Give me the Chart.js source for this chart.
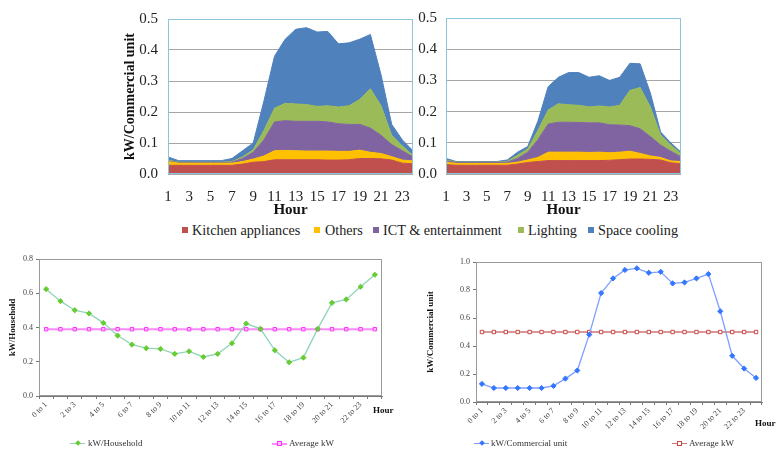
<!DOCTYPE html>
<html><head><meta charset="utf-8">
<script src="https://cdn.jsdelivr.net/npm/chart.js@4.4.1/dist/chart.umd.min.js"></script>
<style>
body{margin:0;background:#fff;}
#wrap{position:relative;width:777px;height:453px;overflow:hidden;font-family:"Liberation Serif","Times New Roman","DejaVu Serif",serif;background:#fff;}
canvas{position:absolute;}
.t{position:absolute;white-space:nowrap;color:#222;}
.lg{font-size:14.2px;line-height:18px;top:221px;}
.sq{position:absolute;width:6px;height:6px;}
.ln{position:absolute;height:0;width:15px;}
.mk{position:absolute;width:4px;height:4px;}
</style></head><body>
<div id="wrap">
<canvas id="c1" width="330" height="220" style="left:100px;top:0px"></canvas>
<canvas id="c2" width="290" height="220" style="left:400px;top:0px"></canvas>
<canvas id="c3" width="400" height="203" style="left:0px;top:250px"></canvas>
<canvas id="c4" width="377" height="203" style="left:400px;top:250px"></canvas>

<div class="sq" style="left:182px;top:227px;background:#C0504D"></div>
<div class="t lg" style="left:192px">Kitchen appliances</div>
<div class="sq" style="left:314px;top:227px;background:#FFC000"></div>
<div class="t lg" style="left:325px">Others</div>
<div class="sq" style="left:373px;top:227px;background:#8064A2"></div>
<div class="t lg" style="left:383px">ICT &amp; entertainment</div>
<div class="sq" style="left:518px;top:227px;background:#9BBB59"></div>
<div class="t lg" style="left:528px">Lighting</div>
<div class="sq" style="left:588px;top:227px;background:#4F81BD"></div>
<div class="t lg" style="left:598px">Space cooling</div>

<div class="t" style="left:373px;top:404px;font-size:9px;line-height:12px;font-weight:bold;color:#111">Hour</div>
<div class="t" style="left:755px;top:417px;font-size:9px;line-height:12px;font-weight:bold;color:#111">Hour</div>

<div class="ln" style="left:70px;top:443px;border-top:1px solid #90D5B5"></div>
<div class="mk" style="left:76px;top:441px;background:#66CC33;transform:rotate(45deg)"></div>
<div class="t" style="left:88px;top:437px;font-size:9px;line-height:12px;color:#333">kW/Household</div>
<div class="ln" style="left:272px;top:443px;border-top:2px solid #FF88FF"></div>
<div class="mk" style="left:277px;top:441px;background:#FFC0FF;border:1px solid #FF33FF;width:3px;height:3px"></div>
<div class="t" style="left:289px;top:437px;font-size:9px;line-height:12px;color:#333">Average kW</div>

<div class="ln" style="left:474px;top:443px;border-top:1px solid #7F9FFF"></div>
<div class="mk" style="left:480px;top:441px;background:#3377FF;transform:rotate(45deg)"></div>
<div class="t" style="left:491px;top:437px;font-size:9px;line-height:12px;color:#333">kW/Commercial unit</div>
<div class="ln" style="left:672px;top:443px;border-top:1px solid #CC7777"></div>
<div class="mk" style="left:677px;top:441px;background:#fff;border:1px solid #CC4444;width:3px;height:3px"></div>
<div class="t" style="left:689px;top:437px;font-size:9px;line-height:12px;color:#333">Average kW</div>
</div>
<script>
const hourLabels = ['1','2','3','4','5','6','7','8','9','10','11','12','13','14','15','16','17','18','19','20','21','22','23','24'];
const rangeLabels = ['0 to 1','1 to 2','2 to 3','3 to 4','4 to 5','5 to 6','6 to 7','7 to 8','8 to 9','9 to 10','10 to 11','11 to 12','12 to 13','13 to 14','14 to 15','15 to 16','16 to 17','17 to 18','18 to 19','19 to 20','20 to 21','21 to 22','22 to 23','23 to 24'];
const seriesNames = ['Kitchen appliances','Others','ICT & entertainment','Lighting','Space cooling'];

// Top-left stacked area (kW/Commercial unit)
const kitchenA = [0.028,0.028,0.028,0.028,0.028,0.028,0.028,0.032,0.038,0.040,0.046,0.046,0.046,0.046,0.046,0.045,0.045,0.046,0.050,0.050,0.049,0.045,0.035,0.033];
const othersA  = [0.012,0.007,0.007,0.007,0.007,0.007,0.007,0.008,0.010,0.018,0.029,0.030,0.029,0.028,0.028,0.029,0.028,0.027,0.027,0.020,0.017,0.011,0.010,0.009];
const ictA     = [0.002,0.002,0.002,0.002,0.002,0.002,0.003,0.010,0.022,0.052,0.093,0.096,0.095,0.096,0.096,0.094,0.089,0.087,0.083,0.078,0.059,0.039,0.030,0.013];
const lightA   = [0.003,0.001,0.001,0.001,0.001,0.001,0.002,0.005,0.008,0.030,0.044,0.056,0.056,0.054,0.048,0.052,0.054,0.060,0.080,0.127,0.095,0.030,0.015,0.005];
const coolA    = [0.010,0.005,0.005,0.005,0.005,0.005,0.010,0.020,0.022,0.095,0.168,0.207,0.241,0.248,0.240,0.240,0.204,0.203,0.195,0.175,0.100,0.035,0.020,0.015];

// Top-right stacked area
const kitchenB = [0.030,0.028,0.028,0.028,0.028,0.028,0.028,0.032,0.037,0.040,0.043,0.043,0.043,0.043,0.043,0.043,0.044,0.046,0.048,0.048,0.047,0.045,0.036,0.033];
const othersB  = [0.008,0.006,0.006,0.006,0.006,0.006,0.006,0.006,0.008,0.013,0.027,0.027,0.027,0.027,0.026,0.027,0.024,0.024,0.025,0.018,0.011,0.008,0.006,0.007];
const ictB     = [0.004,0.003,0.003,0.003,0.003,0.003,0.004,0.012,0.025,0.057,0.090,0.096,0.096,0.095,0.095,0.094,0.090,0.087,0.082,0.079,0.062,0.040,0.031,0.015];
const lightB   = [0.003,0.001,0.001,0.001,0.001,0.001,0.002,0.010,0.010,0.030,0.045,0.059,0.056,0.055,0.051,0.054,0.057,0.063,0.113,0.132,0.095,0.032,0.019,0.010];
const coolB    = [0.005,0.002,0.002,0.002,0.002,0.002,0.005,0.010,0.008,0.030,0.075,0.085,0.103,0.105,0.095,0.097,0.085,0.090,0.087,0.076,0.045,0.010,0.008,0.005];

// Bottom-left line chart
const householdKW = [0.624,0.554,0.501,0.482,0.427,0.353,0.300,0.279,0.275,0.246,0.261,0.228,0.246,0.308,0.423,0.392,0.267,0.197,0.224,0.392,0.544,0.564,0.638,0.708];
const householdAvg = [0.39,0.39,0.39,0.39,0.39,0.39,0.39,0.39,0.39,0.39,0.39,0.39,0.39,0.39,0.39,0.39,0.39,0.39,0.39,0.39,0.39,0.39,0.39,0.39];

// Bottom-right line chart
const commercialKW = [0.129,0.100,0.100,0.100,0.100,0.100,0.115,0.167,0.225,0.481,0.778,0.883,0.943,0.955,0.923,0.930,0.847,0.854,0.883,0.914,0.648,0.330,0.239,0.172];
const commercialAvg = [0.50,0.50,0.50,0.50,0.50,0.50,0.50,0.50,0.50,0.50,0.50,0.50,0.50,0.50,0.50,0.50,0.50,0.50,0.50,0.50,0.50,0.50,0.50,0.50];

const areaColors = ['#C0504D','#FFC000','#8064A2','#9BBB59','#4F81BD'];
const serifFamily = 'Liberation Serif, Times New Roman, DejaVu Serif, serif';

const framePlugin = {
  id:'frame',
  afterDatasetsDraw(chart, args, opts){
    if(!opts || !opts.color) return;
    const {ctx, chartArea:a} = chart;
    ctx.save();
    ctx.strokeStyle = opts.color; ctx.lineWidth = 1;
    ctx.strokeRect(Math.round(a.left)+0.5, Math.round(a.top)+0.5, Math.round(a.right-a.left)-1, Math.round(a.bottom-a.top)-1);
    ctx.restore();
  }
};

function topChart(id, series, cfg){
  const datasets = series.map((d,i)=>({
    label: seriesNames[i], data: d,
    backgroundColor: areaColors[i], borderColor: areaColors[i], borderWidth: 1,
    fill: i===0 ? 'origin' : '-1', pointRadius: 0, tension: 0
  }));
  return new Chart(document.getElementById(id), {
    type:'line',
    data:{labels: hourLabels, datasets},
    options:{
      responsive:false, animation:false,
      layout:{padding:{top:16, right:cfg.padRight, left:0, bottom:0}},
      plugins:{legend:{display:false}, tooltip:{enabled:false}, frame:{color:'#8DC6DA'}},
      scales:{
        x:{
          offset:false, grid:{display:false}, border:{display:false},
          ticks:{autoSkip:false, maxRotation:0, minRotation:0, padding:6, color:'#222',
                 font:{family:serifFamily, size:15},
                 callback:(v,i)=> i%2===0 ? hourLabels[i] : ''},
          title:{display:true, text:'Hour', color:'#111', font:{family:serifFamily, size:15, weight:'bold'}, padding:{top:0,bottom:1}},
          afterFit:s=>{s.height=46;}
        },
        y:{
          stacked:true, min:0, max:0.5,
          ticks:{stepSize:0.1, padding:cfg.tickPad, color:'#222', font:{family:serifFamily, size:15}, callback:v=>Number(v).toFixed(1)},
          grid:{color:'#A6A6A6', drawTicks:false}, border:{display:false},
          title: cfg.yTitle ? {display:true, text:cfg.yTitle, color:'#111', font:{family:serifFamily, size:14, weight:'bold'}, padding:{top:22,bottom:0}} : {display:false},
          afterFit:s=>{s.width=cfg.yWidth;}
        }
      }
    },
    plugins:[framePlugin]
  });
}

topChart('c1', [kitchenA, othersA, ictA, lightA, coolA], {padRight:17, tickPad:10, yWidth:68, yTitle:'kW/Commercial unit'});
topChart('c2', [kitchenB, othersB, ictB, lightB, coolB], {padRight:9, tickPad:9, yWidth:46, yTitle:null});

function bottomChart(id, main, avg, cfg){
  return new Chart(document.getElementById(id), {
    type:'line',
    data:{labels: rangeLabels, datasets:[
      {label:cfg.mainLabel, data:main, borderColor:cfg.mainLine, borderWidth:1.3, tension:0,
       pointStyle:'rectRot', pointRadius:2.6, pointBackgroundColor:cfg.mainPt, pointBorderColor:cfg.mainPt, pointBorderWidth:1},
      {label:'Average kW', data:avg, borderColor:cfg.avgLine, borderWidth:cfg.avgWidth, tension:0,
       pointStyle:'rect', pointRadius:2.4, pointBackgroundColor:cfg.avgFill, pointBorderColor:cfg.avgPt, pointBorderWidth:1}
    ]},
    options:{
      responsive:false, animation:false,
      layout:{padding:{top:cfg.padTop, right:cfg.padRight, left:0, bottom:0}},
      plugins:{legend:{display:false}, tooltip:{enabled:false}, frame:{color:'#9A9A9A'}},
      scales:{
        x:{
          offset:true,
          grid:{display:true, drawOnChartArea:false, offset:true, tickLength:3, color:'#777'},
          border:{display:true, color:'#777'},
          ticks:{autoSkip:false, minRotation:45, maxRotation:45, padding:1, color:'#444',
                 font:{family:serifFamily, size:8},
                 callback:(v,i)=> i%2===0 ? rangeLabels[i] : ''},
          afterFit:s=>{s.height=cfg.xHeight;}
        },
        y:{
          min:0, max:cfg.yMax,
          ticks:{stepSize:0.2, padding:3, color:'#444', font:{family:serifFamily, size:8}, callback:v=>Number(v).toFixed(1)},
          grid:{display:true, drawOnChartArea:false, tickLength:3, color:'#777'},
          border:{display:true, color:'#777'},
          title:{display:true, text:cfg.yTitle, color:'#111', font:{family:serifFamily, size:9, weight:'bold'}, padding:{top:cfg.titlePad,bottom:0}},
          afterFit:s=>{s.width=cfg.yWidth;}
        }
      }
    },
    plugins:[framePlugin]
  });
}

bottomChart('c3', householdKW, householdAvg, {
  mainLabel:'kW/Household', mainLine:'#90D5B5', mainPt:'#66CC33',
  avgLine:'#FF88FF', avgWidth:2, avgFill:'#FFC0FF', avgPt:'#FF33FF',
  padTop:9, padRight:18, xHeight:57, yWidth:39, yMax:0.8, yTitle:'kW/Household', titlePad:7
});
bottomChart('c4', commercialKW, commercialAvg, {
  mainLabel:'kW/Commercial unit', mainLine:'#7F9FFF', mainPt:'#3377FF',
  avgLine:'#CC7777', avgWidth:1.3, avgFill:'#FFFFFF', avgPt:'#CC4444',
  padTop:12, padRight:15, xHeight:51, yWidth:76, yMax:1.0, yTitle:'kW/Commercial unit', titlePad:25
});
</script>
</body></html>
